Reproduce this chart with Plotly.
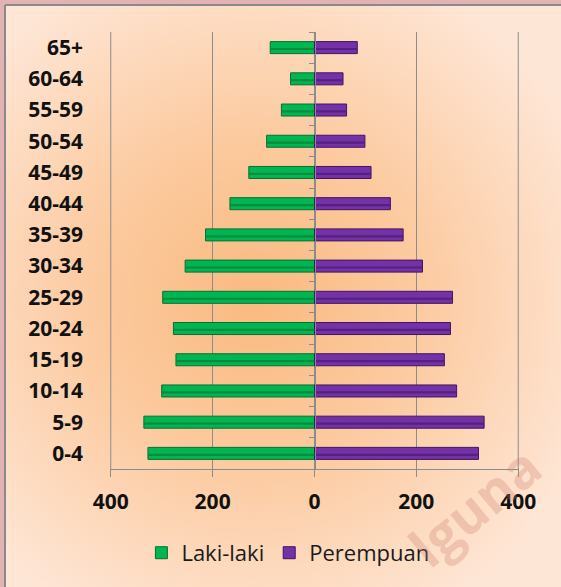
import base64
import plotly.graph_objects as go

# ---- data ----
age_groups = ["0-4", "5-9", "10-14", "15-19", "20-24", "25-29", "30-34",
              "35-39", "40-44", "45-49", "50-54", "55-59", "60-64", "65+"]
laki_laki = [327, 335, 300, 272, 277, 298, 254, 214, 166, 129, 94, 65, 47, 87]
perempuan = [322, 333, 279, 255, 267, 271, 212, 174, 149, 111, 99, 63, 56, 84]
x_tickvals = [-400, -200, 0, 200, 400]
x_ticktext = ["400", "200", "0", "200", "400"]

W, H = 561, 587
ML, MR, MT, MB = 110, 42, 32, 118
PW, PH = W - ML - MR, H - MT - MB
XR = 401.5  # half range (slightly beyond 400 so edge gridlines render fully)

laki_neg = [-v for v in laki_laki]

GREEN, GREEN_D, GREEN_S = "#00b651", "#0a6e34", "#088a3f"
PURP, PURP_D, PURP_S = "#7432a6", "#3f1463", "#55207f"
GRID = "#8c8c8c"

fig = go.Figure()
fig.add_trace(go.Bar(y=age_groups, x=laki_neg, orientation="h", name="Laki-laki",
                     marker=dict(color=GREEN, line=dict(color=GREEN_D, width=1)),
                     width=0.385))
fig.add_trace(go.Bar(y=age_groups, x=perempuan, orientation="h", name="Perempuan",
                     marker=dict(color=PURP, line=dict(color=PURP_D, width=1)),
                     width=0.385))
# darker bevel stripe inside bars
fig.add_trace(go.Bar(y=age_groups, x=laki_neg, orientation="h", showlegend=False,
                     marker=dict(color=GREEN_S, line=dict(width=0)),
                     width=0.07, offset=-0.08, hoverinfo="skip"))
fig.add_trace(go.Bar(y=age_groups, x=perempuan, orientation="h", showlegend=False,
                     marker=dict(color=PURP_S, line=dict(width=0)),
                     width=0.07, offset=-0.08, hoverinfo="skip"))

# invisible trace to carry the centre axis (with category-boundary ticks)
n = len(age_groups)
fig.add_trace(go.Scatter(x=[0], y=[0], yaxis="y2", mode="markers",
                         marker=dict(opacity=0), showlegend=False, hoverinfo="skip"))

# outer gridlines at the range ends (plotly omits them at plot edges)
for xv in (x_tickvals[0], x_tickvals[-1]):
    fig.add_shape(type="line", xref="x", yref="paper", x0=xv, x1=xv, y0=0, y1=1,
                  line=dict(color=GRID, width=1), layer="below")

# background: radial peach gradient with frame
svg = f'''<svg xmlns="http://www.w3.org/2000/svg" width="{W}" height="{H}" viewBox="0 0 {W} {H}">
<defs><radialGradient id="g" gradientUnits="userSpaceOnUse" cx="255" cy="300" r="360">
<stop offset="0" stop-color="#f9ba80"/>
<stop offset="0.45" stop-color="#fcca9f"/>
<stop offset="1" stop-color="#fee6d6"/>
</radialGradient></defs>
<rect x="0" y="0" width="{W}" height="{H}" fill="#e3b3b3"/>
<rect x="5" y="5" width="{W}" height="{H}" fill="url(#g)"/>
<line x1="5" y1="5" x2="{W}" y2="5" stroke="#8a8a8a" stroke-width="2"/>
<line x1="5" y1="5" x2="5" y2="{H}" stroke="#8a8a8a" stroke-width="2"/>
</svg>'''
src = "data:image/svg+xml;base64," + base64.b64encode(svg.encode()).decode()

fig.add_layout_image(dict(source=src, xref="paper", yref="paper",
                          x=-ML / PW, y=1 + MT / PH, sizex=W / PW, sizey=H / PH,
                          xanchor="left", yanchor="top", sizing="stretch",
                          layer="below", opacity=1))

tick_font = dict(family="Open Sans", size=21, color="#111111", weight="bold")

fig.update_layout(
    width=W, height=H,
    margin=dict(l=ML, r=MR, t=MT, b=MB),
    paper_bgcolor="#fdd9bd",
    plot_bgcolor="rgba(0,0,0,0)",
    barmode="overlay",
    bargap=0.615,
    xaxis=dict(range=[-XR, XR], tickvals=x_tickvals, ticktext=x_ticktext,
               showgrid=True, gridcolor=GRID, gridwidth=1, zeroline=False,
               showline=True, linecolor=GRID, linewidth=1,
               ticks="outside", ticklen=7, tickcolor=GRID,
               tickfont=tick_font, ticklabelstandoff=7, fixedrange=True),
    yaxis=dict(type="category", range=[-0.5, n - 0.5], showgrid=False,
               showline=False, zeroline=False, ticks="",
               tickfont=tick_font, ticklabelstandoff=26),
    yaxis2=dict(overlaying="y", anchor="free", position=0.5,
                side="left", range=[-0.5, n - 0.5],
                tickvals=[i - 0.5 for i in range(n + 1)],
                ticks="outside", ticklen=6, tickcolor=GRID,
                showticklabels=False, showgrid=False, zeroline=False,
                showline=True, linecolor=GRID, linewidth=1),
    legend=dict(orientation="h", x=0.435, xanchor="center", y=-0.192,
                yanchor="middle", bgcolor="rgba(0,0,0,0)",
                font=dict(family="Open Sans", size=22, color="#1a1a1a"),
                itemwidth=30, traceorder="normal"),
    showlegend=True,
)

# faint watermark, kept fully inside the picture
fig.add_annotation(text="lguna", xref="paper", yref="paper",
                   x=(474 - ML) / PW, y=(H - MB - 506) / PH,
                   xanchor="center", yanchor="middle",
                   showarrow=False, textangle=-40,
                   font=dict(family="Open Sans", size=54, weight="bold",
                             color="rgba(205,130,110,0.30)"))

fig.write_html("out.html")
